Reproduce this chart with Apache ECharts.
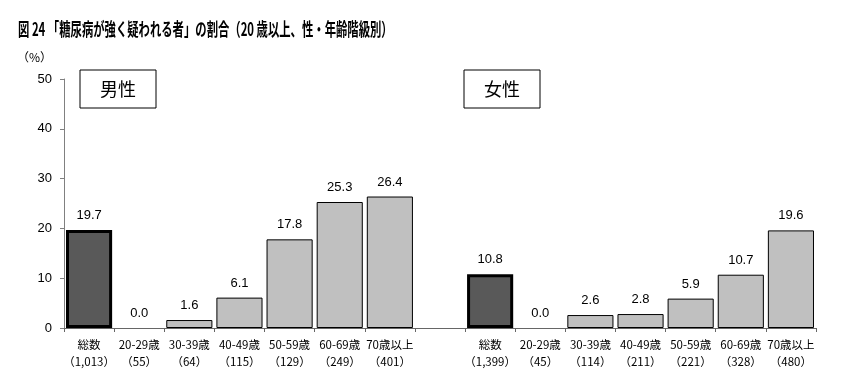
<!DOCTYPE html>
<html>
<head>
<meta charset="utf-8">
<script src="https://cdn.jsdelivr.net/npm/echarts@6/dist/echarts.min.js"></script>
<style>
html,body{margin:0;padding:0;background:#fff;}
#chart{width:846px;height:371px;}
</style>
</head>
<body>
<div id="chart"></div>
<script>
var titleText = '図 24 「糖尿病が強く疑われる者」の割合（20 歳以上、性・年齢階級別）';
var ageLabels = ['総数', '20-29歳', '30-39歳', '40-49歳', '50-59歳', '60-69歳', '70歳以上'];
var maleCounts = ['1,013', '55', '64', '115', '129', '249', '401'];
var femaleCounts = ['1,399', '45', '114', '211', '221', '328', '480'];
var maleValues = [19.7, 0.0, 1.6, 6.1, 17.8, 25.3, 26.4];
var femaleValues = [10.8, 0.0, 2.6, 2.8, 5.9, 10.7, 19.6];
var yTicks = [0, 10, 20, 30, 40, 50];

var categories = [];
var data = [];
function addGroup(values, counts) {
  for (var i = 0; i < ageLabels.length; i++) {
    categories.push(ageLabels[i] + '\n（' + counts[i] + '）');
    var item = { value: values[i] };
    if (i === 0) {
      item.itemStyle = { color: '#595959', borderColor: '#000', borderWidth: 3 };
    } else if (values[i] === 0) {
      item.itemStyle = { borderWidth: 0 };
    }
    data.push(item);
  }
}
addGroup(maleValues, maleCounts);
categories.push('');
data.push({ value: null });
addGroup(femaleValues, femaleCounts);

var chart = echarts.init(document.getElementById('chart'), null, { renderer: 'canvas' });
var font = '"Liberation Sans", Arial, "Noto Sans CJK JP", sans-serif';
chart.setOption({
  animation: false,
  backgroundColor: '#fff',
  grid: { left: 64, right: 30, top: 79, bottom: 43, containLabel: false },
  xAxis: {
    type: 'category',
    data: categories,
    axisLine: { lineStyle: { color: '#666', width: 1 } },
    axisTick: { show: true, alignWithLabel: false, length: 4, lineStyle: { color: '#666' }, interval: 0 },
    axisLabel: { interval: 0, color: '#000', fontSize: 11.5, lineHeight: 17, margin: 8, fontFamily: '"Noto Sans CJK JP", sans-serif' }
  },
  yAxis: {
    type: 'value',
    min: yTicks[0], max: yTicks[yTicks.length - 1], interval: 10,
    axisLine: { show: true, lineStyle: { color: '#808080' } },
    axisTick: { show: true, length: 4, lineStyle: { color: '#808080' } },
    splitLine: { show: false },
    axisLabel: { color: '#000', fontSize: 13, margin: 12, fontFamily: font }
  },
  series: [{
    type: 'bar',
    data: data,
    barCategoryGap: '8%',
    itemStyle: { color: '#c0c0c0', borderColor: '#000', borderWidth: 1 },
    label: {
      show: true, position: 'top', distance: 8, color: '#000', fontSize: 13, fontFamily: font,
      formatter: function (p) { return p.value == null ? '' : Number(p.value).toFixed(1); }
    }
  }],
  graphic: [
    { type: 'text', left: 18, top: 20, scaleX: 0.63, style: { text: titleText, fill: '#000', font: 'bold 18px "Noto Sans CJK JP", sans-serif' } },
    { type: 'text', left: 17, top: 51, style: { text: '（%）', fill: '#000', font: '12px "Noto Sans CJK JP", sans-serif' } },
    { type: 'rect', shape: { x: 80, y: 70, width: 76, height: 38 }, style: { fill: '#fff', stroke: '#000', lineWidth: 1 } },
    { type: 'text', x: 118, y: 89, style: { text: '男性', fill: '#000', font: '18px "Noto Sans CJK JP", sans-serif', textAlign: 'center', textVerticalAlign: 'middle' } },
    { type: 'rect', shape: { x: 464, y: 70, width: 76, height: 38 }, style: { fill: '#fff', stroke: '#000', lineWidth: 1 } },
    { type: 'text', x: 502, y: 89, style: { text: '女性', fill: '#000', font: '18px "Noto Sans CJK JP", sans-serif', textAlign: 'center', textVerticalAlign: 'middle' } }
  ]
});
</script>
</body>
</html>
